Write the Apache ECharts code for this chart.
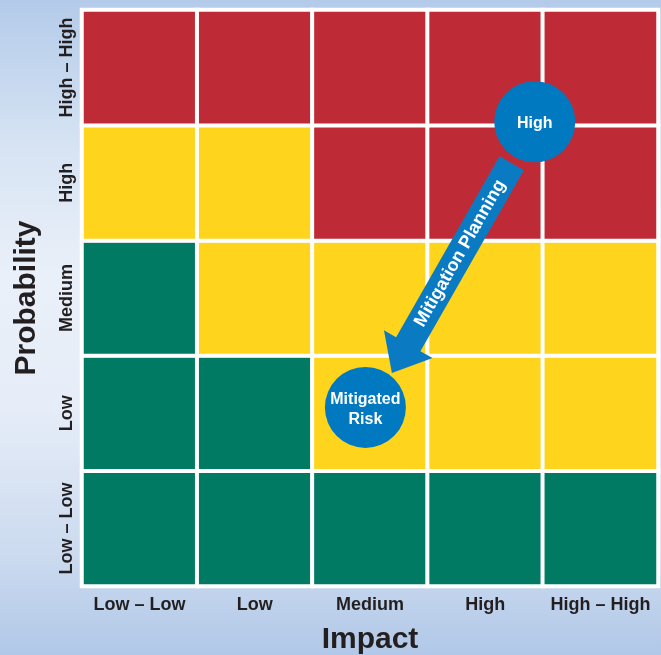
<!DOCTYPE html>
<html><head><meta charset="utf-8">
<script src="https://cdn.jsdelivr.net/npm/echarts@6/dist/echarts.min.js"></script>
<style>
html,body{margin:0;padding:0;}
#c{width:661px;height:655px;background:linear-gradient(to bottom,#b3cbe9 0%,#d6e3f3 22%,#eaf0f9 42%,#e6edf8 62%,#cbdaef 85%,#b1c8e8 100%);}
</style></head><body><div id="c"></div>
<script>
const impactLabels = ['Low – Low', 'Low', 'Medium', 'High', 'High – High'];
const probabilityLabels = ['Low – Low', 'Low', 'Medium', 'High', 'High – High'];
// risk level per probability row (bottom to top), per impact column: 0 green, 1 yellow, 2 red
const riskRows = [
  [0, 0, 0, 0, 0],
  [0, 0, 1, 1, 1],
  [0, 1, 1, 1, 1],
  [1, 1, 2, 2, 2],
  [2, 2, 2, 2, 2]
];
const riskColors = ['#007a63', '#fed41d', '#be2b37'];
const circleNames = ['High', 'Mitigated\nRisk'];
const circleX = [3.93, 2.46];
const circleY = [4.03, 1.55];
const arrowFrom = [3.73, 3.67];
const arrowTo = [2.69, 1.85];
const arrowLabel = 'Mitigation Planning';

const FONT = '"Liberation Sans", Arial, sans-serif';
const heatData = [];
riskRows.forEach((row, yi) => row.forEach((v, xi) => heatData.push([xi, yi, v])));

const chart = echarts.init(document.getElementById('c'), null, {renderer: 'canvas'});
chart.setOption({
  animation: false,
  backgroundColor: 'transparent',
  grid: {left: 82, right: 3, top: 10, bottom: 69, show: true, backgroundColor: '#fff', borderColor: '#fff', borderWidth: 4,
         containLabel: false, outerBoundsMode: 'none'},
  xAxis: [
    {type: 'category', data: impactLabels, position: 'bottom',
     axisLine: {show: false}, axisTick: {show: false}, splitLine: {show: false},
     axisLabel: {interval: 0, color: '#231f20', fontFamily: FONT, fontWeight: 'bold', fontSize: 18, margin: 10},
     name: 'Impact', nameLocation: 'middle', nameGap: 39,
     nameTextStyle: {color: '#231f20', fontFamily: FONT, fontWeight: 'bold', fontSize: 30}},
    {type: 'value', min: 0, max: 5, show: false}
  ],
  yAxis: [
    {type: 'category', data: probabilityLabels,
     axisLine: {show: false}, axisTick: {show: false}, splitLine: {show: false},
     axisLabel: {interval: 0, color: '#231f20', fontFamily: FONT, fontWeight: 'bold', fontSize: 18, rotate: 90, margin: 6, align: 'center', verticalAlign: 'bottom'},
     name: 'Probability', nameLocation: 'middle', nameGap: 40, nameRotate: 90,
     nameTextStyle: {color: '#231f20', fontFamily: FONT, fontWeight: 'bold', fontSize: 30}},
    {type: 'value', min: 0, max: 5, show: false}
  ],
  visualMap: {show: false, type: 'piecewise', seriesIndex: 0, dimension: 2,
    pieces: riskColors.map((c, i) => ({value: i, color: c}))},
  series: [
    {type: 'heatmap', xAxisIndex: 0, yAxisIndex: 0, data: heatData,
     itemStyle: {borderColor: '#fff', borderWidth: 4}, emphasis: {disabled: true}, silent: true},
    {type: 'custom', xAxisIndex: 1, yAxisIndex: 1, silent: true,
     data: [[arrowFrom[0], arrowFrom[1], arrowTo[0], arrowTo[1]]],
     renderItem: function (params, api) {
       const p0 = api.coord([api.value(0), api.value(1)]);
       const p1 = api.coord([api.value(2), api.value(3)]);
       const dx = p1[0] - p0[0], dy = p1[1] - p0[1];
       const len = Math.sqrt(dx * dx + dy * dy);
       const ux = dx / len, uy = dy / len;
       const nx = -uy, ny = ux;
       const headLen = 33, shaftHalf = 14, headHalf = 28;
       const bx = p1[0] - ux * headLen, by = p1[1] - uy * headLen;
       const pts = [
         [p0[0] + nx * shaftHalf, p0[1] + ny * shaftHalf],
         [bx + nx * shaftHalf, by + ny * shaftHalf],
         [bx + nx * headHalf, by + ny * headHalf],
         [p1[0], p1[1]],
         [bx - nx * headHalf, by - ny * headHalf],
         [bx - nx * shaftHalf, by - ny * shaftHalf],
         [p0[0] - nx * shaftHalf, p0[1] - ny * shaftHalf]
       ];
       const t = 0.43;
       const tx = p0[0] + dx * t, ty = p0[1] + dy * t;
       const ang = Math.atan2(-(p0[1] - p1[1]), p0[0] - p1[0]);
       return {type: 'group', children: [
         {type: 'polygon', shape: {points: pts}, style: {fill: '#0a7bc2'}},
         {type: 'text', x: tx, y: ty, rotation: ang,
          style: {text: arrowLabel, fill: '#fff', font: 'bold 18px ' + FONT, align: 'center', verticalAlign: 'middle'}}
       ]};
     }},
    {type: 'scatter', xAxisIndex: 1, yAxisIndex: 1, silent: true, symbol: 'circle', symbolSize: 81,
     itemStyle: {color: '#0079c1', opacity: 1},
     label: {show: true, position: 'inside', formatter: p => p.name, color: '#fff',
       fontFamily: FONT, fontWeight: 'bold', fontSize: 16, lineHeight: 20, offset: [0, 2]},
     data: circleNames.map((n, i) => ({name: n, value: [circleX[i], circleY[i]]}))}
  ]
});
</script></body></html>
